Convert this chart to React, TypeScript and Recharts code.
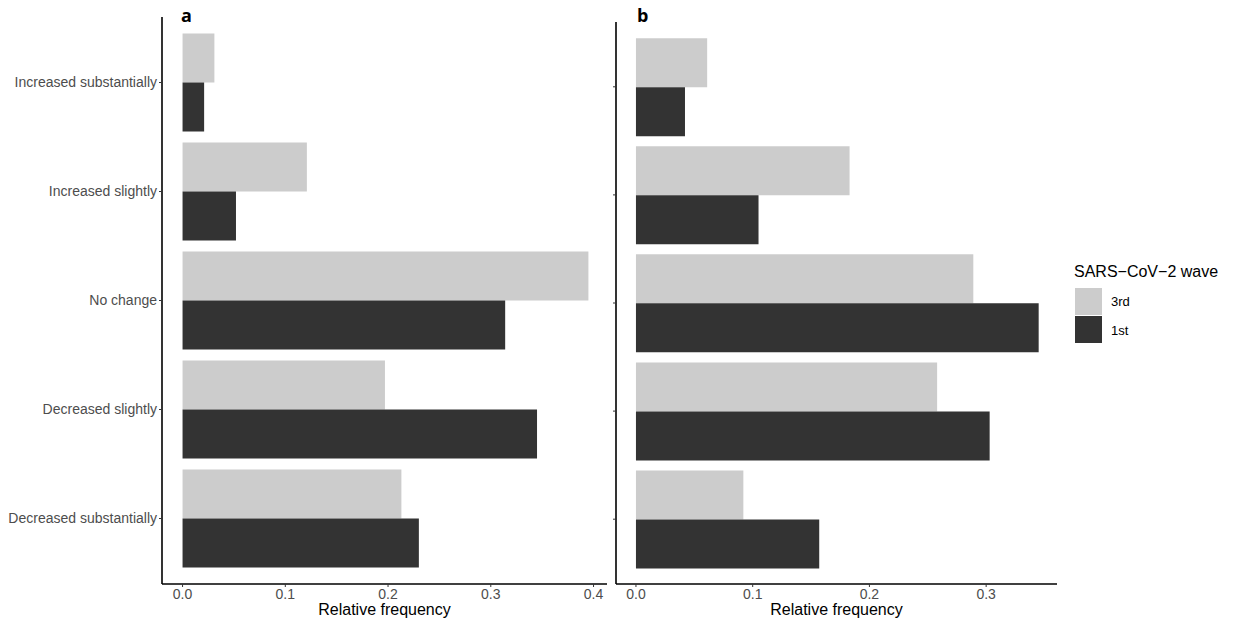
import { BarChart, Bar, XAxis, YAxis } from "recharts";

// categories, top to bottom
const categories = [
  "Increased substantially",
  "Increased slightly",
  "No change",
  "Decreased slightly",
  "Decreased substantially",
];

// panel a
const waveA3rd = [0.031, 0.121, 0.395, 0.197, 0.213];
const waveA1st = [0.021, 0.052, 0.314, 0.345, 0.230];

// panel b
const waveB3rd = [0.061, 0.183, 0.289, 0.258, 0.092];
const waveB1st = [0.042, 0.105, 0.345, 0.303, 0.157];

const ticksA = [0, 0.1, 0.2, 0.3, 0.4];
const ticksB = [0, 0.1, 0.2, 0.3];

const LIGHT = "#CCCCCC";
const DARK = "#333333";
const FONT = "'Liberation Sans', Arial, sans-serif";

const buildRows = (third: number[], first: number[]) =>
  categories.map((name, i) => ({ name, third: third[i], first: first[i] }));

const dataA = buildRows(waveA3rd, waveA1st);
const dataB = buildRows(waveB3rd, waveB1st);

const axisLine = { stroke: "#000", strokeWidth: 1.6 };
const tickLine = { stroke: "#333", strokeWidth: 1 };

interface PanelProps {
  data: Array<{ name: string; third: number; first: number }>;
  width: number;
  top: number;
  yWidth: number;
  domain: [number, number];
  ticks: number[];
  pad: number;
  showLabels: boolean;
}

const Panel = ({ data, width, top, yWidth, domain, ticks, pad, showLabels }: PanelProps) => (
  <BarChart
    width={width}
    height={625}
    data={data}
    layout="vertical"
    margin={{ top, right: 13, left: 0, bottom: 0 }}
    barCategoryGap="5%"
    barGap={0}
  >
    <XAxis
      type="number"
      domain={domain}
      ticks={ticks}
      allowDataOverflow
      height={41}
      tickSize={3}
      axisLine={axisLine}
      tickLine={tickLine}
      tick={{ fill: "#4D4D4D", fontSize: 14, fontFamily: FONT }}
      tickFormatter={(v: number) => v.toFixed(1)}
    />
    <YAxis
      type="category"
      dataKey="name"
      width={yWidth}
      padding={{ top: pad, bottom: pad }}
      tickSize={3}
      axisLine={axisLine}
      tickLine={tickLine}
      tick={{ fill: "#4D4D4D", fontSize: 14, fontFamily: FONT }}
      tickFormatter={(v: string) => (showLabels ? v : "")}
    />
    <Bar dataKey="third" name="3rd" fill={LIGHT} isAnimationActive={false} />
    <Bar dataKey="first" name="1st" fill={DARK} isAnimationActive={false} />
  </BarChart>
);

const abs = (left: number, top: number, extra: React.CSSProperties = {}): React.CSSProperties => ({
  position: "absolute",
  left,
  top,
  ...extra,
});

const tagStyle: React.CSSProperties = {
  fontSize: 18,
  fontWeight: 700,
  fontFamily: "'Open Sans', sans-serif",
  color: "#000",
  lineHeight: "20px",
};

export default function App() {
  return (
    <div style={{ position: "absolute", left: 0, top: 0, width: 1240, height: 625, background: "#fff", fontFamily: FONT }}>
      <div style={abs(0, 0)}>
        <Panel
          data={dataA}
          width={620}
          top={17}
          yWidth={162}
          domain={[-0.02, 0.4131]}
          ticks={ticksA}
          pad={11}
          showLabels
        />
      </div>
      <div style={abs(600, 0)}>
        <Panel
          data={dataB}
          width={470}
          top={22}
          yWidth={16}
          domain={[-0.0171, 0.3607]}
          ticks={ticksB}
          pad={10.75}
          showLabels={false}
        />
      </div>

      {/* panel tags */}
      <div style={abs(181, 5, tagStyle)}>a</div>
      <div style={abs(637, 5, tagStyle)}>b</div>

      {/* axis titles */}
      <div style={abs(162, 601, { width: 445, textAlign: "center", fontSize: 16, color: "#000" })}>Relative frequency</div>
      <div style={abs(616, 601, { width: 441, textAlign: "center", fontSize: 16, color: "#000" })}>Relative frequency</div>

      {/* legend */}
      <div style={abs(1074, 263, { fontSize: 16, color: "#000", whiteSpace: "nowrap" })}>SARS−CoV−2 wave</div>
      <div style={abs(1075, 288, { width: 27, height: 27, background: LIGHT })} />
      <div style={abs(1075, 316, { width: 27, height: 27, background: DARK })} />
      <div style={abs(1111, 294, { fontSize: 13, color: "#000" })}>3rd</div>
      <div style={abs(1111, 323, { fontSize: 13, color: "#000" })}>1st</div>
    </div>
  );
}
